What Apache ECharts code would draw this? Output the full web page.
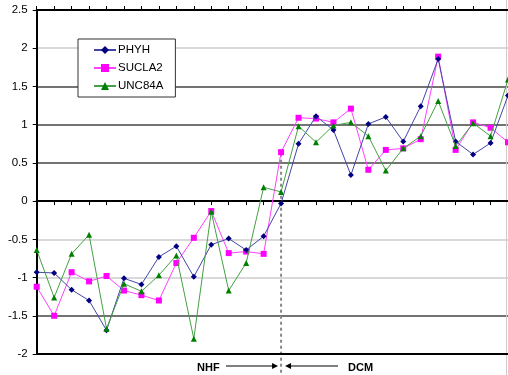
<!DOCTYPE html>
<html>
<head>
<meta charset="utf-8">
<script src="https://cdn.jsdelivr.net/npm/echarts@6/dist/echarts.min.js"></script>
<style>html,body{margin:0;padding:0;background:#fff;}#c{width:508px;height:375px;}</style>
</head>
<body>
<div id="c"></div>
<script>
const categories = ['1','2','3','4','5','6','7','8','9','10','11','12','13','14','15','16','17','18','19','20','21','22','23','24','25','26','27','28'];
const phyh   = [-0.93,-0.94,-1.16,-1.30,-1.69,-1.01,-1.09,-0.73,-0.59,-0.99,-0.57,-0.49,-0.64,-0.46,-0.03,0.75,1.11,0.93,0.34,1.01,1.10,0.78,1.24,1.86,0.78,0.61,0.76,1.38];
const sucla2 = [-1.12,-1.50,-0.93,-1.05,-0.98,-1.17,-1.23,-1.30,-0.81,-0.48,-0.13,-0.68,-0.66,-0.69,0.64,1.09,1.08,1.03,1.21,0.41,0.67,0.69,0.81,1.89,0.67,1.03,0.96,0.77];
const unc84a = [-0.64,-1.26,-0.69,-0.44,-1.67,-1.08,-1.18,-0.97,-0.71,-1.80,-0.14,-1.17,-0.81,0.18,0.12,0.98,0.77,0.99,1.03,0.85,0.40,0.69,0.85,1.31,0.72,1.02,0.85,1.59];
const yTicks = {min: -2, max: 2.5, interval: 0.5};
const splitColors = ['#000','#444','#ccc','#ccc','#444','#444','#444','#444','#ccc','#444'];
const boundaryIndex = 14;
const leftLabel = 'NHF';
const rightLabel = 'DCM';

const chart = echarts.init(document.getElementById('c'), null, {renderer: 'canvas'});
const font = 'Liberation Sans, Arial, sans-serif';
const xBase = {
  type: 'category', data: categories, boundaryGap: false,
  axisLabel: {show: false}, splitLine: {show: false}
};
chart.setOption({
  animation: false,
  backgroundColor: '#fff',
  grid: {left: 36.7, top: 10, right: -1.2, bottom: 21, containLabel: false},
  legend: {
    orient: 'vertical', left: 78, top: 39,
    backgroundColor: '#fff', borderColor: '#333', borderWidth: 1, borderRadius: 0,
    padding: [5, 12, 5, 15], itemGap: 6, itemWidth: 22, itemHeight: 10,
    textStyle: {fontFamily: font, fontSize: 11.5, color: '#000', padding: [0, 0, 0, -3]},
    data: ['PHYH','SUCLA2','UNC84A']
  },
  xAxis: [
    Object.assign({}, xBase, {
      position: 'bottom',
      axisLine: {show: true, onZero: true, lineStyle: {color: '#000', width: 2}},
      axisTick: {show: true, length: 4, inside: false, lineStyle: {color: '#000', width: 1}}
    }),
    Object.assign({}, xBase, {
      position: 'top',
      axisLine: {show: true, onZero: true, lineStyle: {color: '#000', width: 2}},
      axisTick: {show: true, length: 4, inside: false, lineStyle: {color: '#000', width: 1}}
    })
  ],
  yAxis: {
    type: 'value', min: yTicks.min, max: yTicks.max, interval: yTicks.interval,
    axisLine: {show: true, lineStyle: {color: '#000', width: 2}},
    axisTick: {show: true, length: 4, lineStyle: {color: '#000'}},
    axisLabel: {fontFamily: font, fontSize: 11.5, color: '#000', margin: 9},
    splitLine: {show: true, lineStyle: {color: splitColors, width: 1.5}}
  },
  series: [
    {name: 'PHYH', type: 'line', data: phyh, symbol: 'diamond', symbolSize: 6,
     itemStyle: {color: '#000080'}, lineStyle: {color: '#4444a8', width: 1}, z: 3},
    {name: 'SUCLA2', type: 'line', data: sucla2, symbol: 'rect', symbolSize: 6,
     itemStyle: {color: '#ff00ff'}, lineStyle: {color: '#ff40ff', width: 1}, z: 2},
    {name: 'UNC84A', type: 'line', data: unc84a, symbol: 'triangle', symbolSize: 6,
     itemStyle: {color: '#008000'}, lineStyle: {color: '#44a044', width: 1}, z: 4}
  ]
});

const bx = chart.convertToPixel({xAxisIndex: 0}, boundaryIndex);
const by0 = chart.convertToPixel({yAxisIndex: 0}, 0.62);
const yBottom = chart.convertToPixel({yAxisIndex: 0}, yTicks.min);
const ay = 366;
chart.setOption({
  graphic: [
    {type: 'line', shape: {x1: 36.7, y1: yBottom, x2: 508, y2: yBottom}, style: {stroke: '#000', lineWidth: 2}, z: 5},
    {type: 'line', shape: {x1: bx, y1: by0, x2: bx, y2: 375}, style: {stroke: '#888', lineWidth: 2, lineDash: [3, 3]}, z: 1},
    {type: 'line', shape: {x1: 506.5, y1: 0, x2: 506.5, y2: 375}, style: {stroke: '#ccc', lineWidth: 1}, z: 0},
    {type: 'text', x: 197, y: 367.5, style: {text: leftLabel, font: 'bold 11px ' + font, fill: '#000', textVerticalAlign: 'middle'}},
    {type: 'text', x: 348, y: 367.5, style: {text: rightLabel, font: 'bold 11px ' + font, fill: '#000', textVerticalAlign: 'middle'}},
    {type: 'line', shape: {x1: 226, y1: ay, x2: bx - 6, y2: ay}, style: {stroke: '#000', lineWidth: 1.2}},
    {type: 'polygon', shape: {points: [[bx - 3, ay], [bx - 9, ay - 3], [bx - 9, ay + 3]]}, style: {fill: '#000'}},
    {type: 'line', shape: {x1: bx + 7, y1: ay, x2: 338, y2: ay}, style: {stroke: '#000', lineWidth: 1.2}},
    {type: 'polygon', shape: {points: [[bx + 4, ay], [bx + 10, ay - 3], [bx + 10, ay + 3]]}, style: {fill: '#000'}}
  ]
});
</script>
</body>
</html>
